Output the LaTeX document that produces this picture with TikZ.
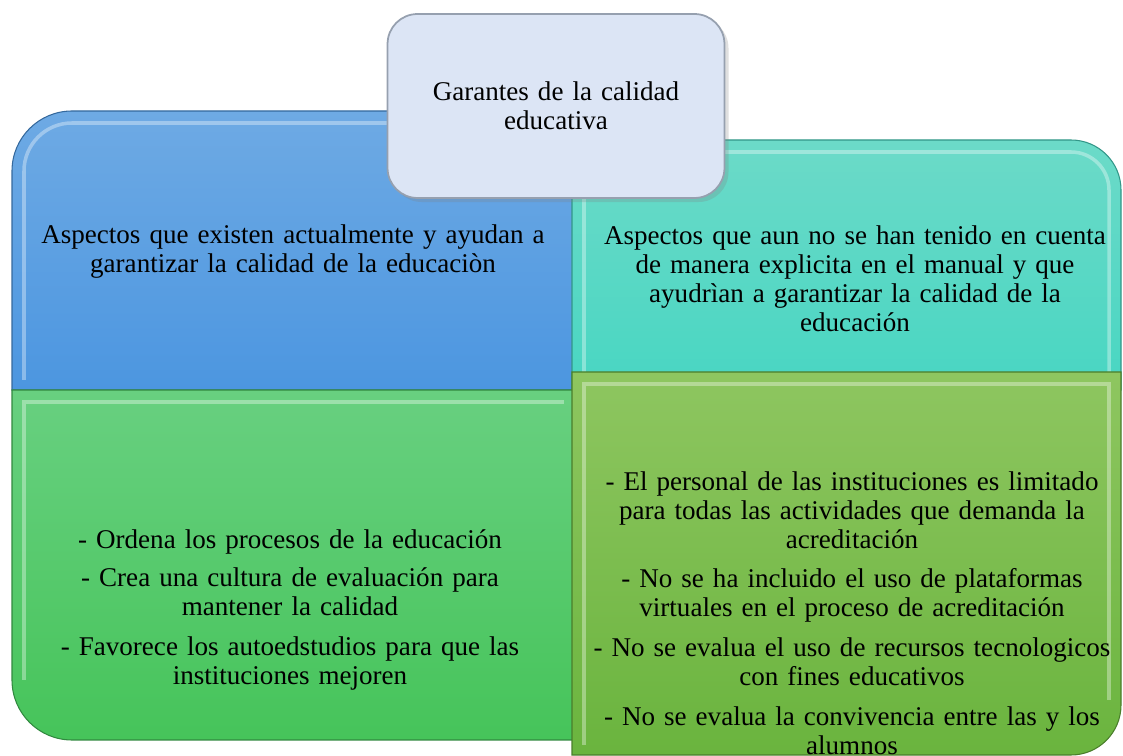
\documentclass[tikz,border=0pt]{standalone}
\usepackage{fontspec}
\setmainfont{Liberation Serif}
\usetikzlibrary{shadows}
\definecolor{blueTop}{RGB}{110,170,228}
\definecolor{blueBot}{RGB}{76,150,224}
\definecolor{tealTop}{RGB}{108,218,200}
\definecolor{tealBot}{RGB}{72,214,194}
\definecolor{greenTop}{RGB}{104,208,128}
\definecolor{greenBot}{RGB}{70,196,90}
\definecolor{oliveTop}{RGB}{142,198,96}
\definecolor{oliveBot}{RGB}{106,180,62}
\definecolor{titleFill}{RGB}{220,229,245}
\definecolor{edgeGray}{RGB}{150,160,175}
\begin{document}
\begin{tikzpicture}[x=0.02cm,y=0.02cm]
\tikzset{
  txt/.style={align=center, font=\fontsize{15.4}{16.5}\selectfont},
  panel/.style={draw=#1!70!black, line width=0.6pt},
  bevel/.style={draw=white, draw opacity=0.35, line width=2pt}
}
\useasboundingbox (0,0) rectangle (1123,-756);

% the four quarters
\shade[panel=blueBot, top color=blueTop, bottom color=blueBot] (12,-390) -- (12,-171) arc[start angle=180, end angle=90, radius=60] -- (580,-111) -- (580,-390) -- cycle;
\draw[bevel] (24,-380) -- (24,-171) arc[start angle=180, end angle=90, radius=48] -- (570,-123);
\shade[panel=tealBot, top color=tealTop, bottom color=tealBot] (572,-390) -- (572,-140) -- (1071,-140) arc[start angle=90, end angle=0, radius=50] -- (1121,-390) -- cycle;
\draw[bevel] (584,-380) -- (584,-152) -- (1071,-152) arc[start angle=90, end angle=0, radius=38] -- (1109,-380);
\shade[panel=greenBot, top color=greenTop, bottom color=greenBot] (12,-390) -- (12,-680) arc[start angle=180, end angle=270, radius=60] -- (576,-740) -- (576,-390) -- cycle;
\draw[bevel] (24,-680) -- (24,-402) -- (564,-402);
\shade[panel=oliveBot, top color=oliveTop, bottom color=oliveBot] (572,-372) -- (1121,-372) -- (1121,-705) arc[start angle=0, end angle=-90, radius=50] -- (572,-755) -- cycle;
\draw[bevel] (584,-745) -- (584,-384) -- (1109,-384) -- (1109,-700);

\node[txt, text width=10.8cm] (existen) at (293,-252) {Aspectos que existen actualmente y ayudan a\\ garantizar la calidad de la educaciòn};
\node[txt, text width=10.8cm] (faltan) at (855,-279) {Aspectos que aun no se han tenido en cuenta\\ de manera explicita en el manual y que\\ ayudrìan a garantizar la calidad de la\\ educación};
\node[txt, text width=10.8cm] (logros) at (290,-610) {- Ordena los procesos de la educación\\[5pt] - Crea una cultura de evaluación para\\ mantener la calidad\\[6pt] - Favorece los autoedstudios para que las\\ instituciones mejoren};
\node[txt, text width=10.8cm] (pendientes) at (852,-613) {- El personal de las instituciones es limitado\\ para todas las actividades que demanda la\\ acreditación\\[6pt] - No se ha incluido el uso de plataformas\\ virtuales en el proceso de acreditación\\[6pt] - No se evalua el uso de recursos tecnologicos\\ con fines educativos\\[6pt] - No se evalua la convivencia entre las y los\\ alumnos};

% title box on top
\node[txt, draw=edgeGray, line width=1pt, fill=titleFill, rounded corners=0.6cm, drop shadow={opacity=0.25}, minimum width=6.74cm, minimum height=3.68cm, text width=6cm] (garantes) at (556,-106) {Garantes de la calidad\\ educativa};
\end{tikzpicture}
\end{document}
